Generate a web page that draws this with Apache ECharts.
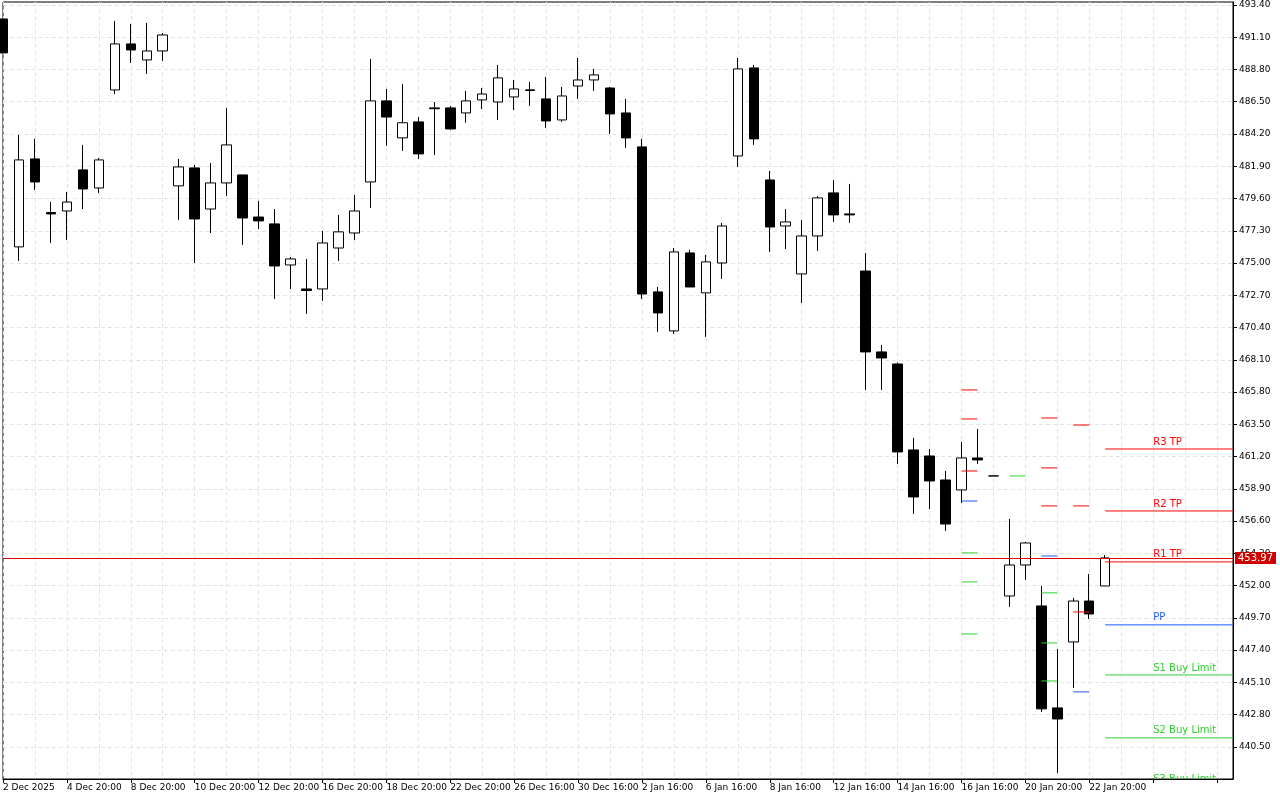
<!DOCTYPE html>
<html><head><meta charset="utf-8">
<script src="https://cdn.jsdelivr.net/npm/echarts@6/dist/echarts.min.js"></script>
<style>html,body{margin:0;padding:0;background:#fff}#c{width:1280px;height:800px}</style>
</head><body><div id="c"></div>
<script>
// OHLC candles: [open, close, low, high]
const opens  = [492.4,476.15,482.42,478.6,478.71,481.64,480.35,487.34,490.62,489.48,490.12,480.5,481.78,478.85,480.71,481.28,478.28,477.79,474.86,473.15,473.15,476.07,477.14,480.78,486.56,483.92,485.06,486.06,486.06,485.7,486.63,486.48,486.84,487.3,486.7,485.2,487.62,488.05,487.48,485.7,483.28,472.94,470.16,475.72,472.87,475.0,482.63,488.91,480.92,477.64,474.22,476.93,480.0,478.5,474.43,468.66,467.8,461.67,461.24,459.53,458.82,461.1,459.82,451.26,453.47,450.55,443.28,447.98,450.9,451.97];
const closes = [489.98,482.35,480.78,478.5,479.35,480.28,482.35,490.62,490.19,490.12,491.26,481.85,478.14,480.71,483.42,478.21,478.0,474.79,475.29,473.04,476.43,477.22,478.71,486.56,485.41,485.0,482.78,486.0,484.56,486.56,487.05,488.2,487.41,487.35,485.13,486.91,488.05,488.41,485.63,483.92,472.79,471.44,475.79,473.29,475.08,477.64,488.84,483.85,477.57,477.93,476.93,479.64,478.43,478.43,468.66,468.23,461.53,458.32,459.46,456.39,461.1,460.96,459.82,453.47,455.04,443.21,442.49,450.9,449.98,453.97];
const lows   = [489.98,475.15,480.21,476.43,476.64,478.85,480.0,487.05,489.26,488.48,489.41,478.07,475.0,477.14,479.78,476.29,477.43,472.44,473.15,471.37,472.3,475.15,476.64,478.93,483.35,482.99,482.42,482.7,484.49,485.0,485.98,485.2,485.91,486.2,484.63,485.06,486.7,487.27,484.2,483.2,472.44,470.09,469.94,473.29,469.73,473.86,481.85,483.42,475.79,476.0,472.15,475.86,477.93,477.86,465.95,465.95,460.67,457.11,457.46,455.9,457.89,460.67,459.82,450.48,452.4,442.99,438.64,444.7,449.62,451.97];
const highs  = [492.4,484.13,483.85,479.35,480.07,483.42,482.49,492.26,492.05,492.12,491.4,482.42,481.99,482.13,486.06,481.28,479.43,478.85,475.43,475.29,477.29,478.43,479.85,489.55,487.41,487.77,485.41,486.48,486.2,487.27,487.48,489.12,488.05,487.91,488.27,487.55,489.62,488.84,487.55,486.7,483.85,473.29,476.07,475.93,475.58,477.86,489.62,489.12,481.56,478.85,478.07,479.78,480.92,480.64,475.72,469.16,467.9,462.53,461.74,460.17,462.24,463.17,459.82,456.75,455.11,451.97,447.48,451.12,452.83,454.18];
const xTickLabels = ["2 Dec 2025","4 Dec 20:00","8 Dec 20:00","10 Dec 20:00","12 Dec 20:00","16 Dec 20:00","18 Dec 20:00","22 Dec 20:00","26 Dec 16:00","30 Dec 16:00","2 Jan 16:00","6 Jan 16:00","8 Jan 16:00","12 Jan 16:00","14 Jan 16:00","16 Jan 16:00","20 Jan 20:00","22 Jan 20:00"];
const yTicks = [440.5,442.8,445.1,447.4,449.7,452.0,454.3,456.6,458.9,461.2,463.5,465.8,468.1,470.4,472.7,475.0,477.3,479.6,481.9,484.2,486.5,488.8,491.1,493.4];
const lastPrice = 453.97;
// pivot segments: [startIndex, endIndex, value, kind(0=R,1=PP,2=S)]
const pivotStart = [60,60,60,60,60,60,60, 63, 65,65,65,65,65,65,65, 67,67,67,67, 69,69,69,69,69,69,69];
const pivotEnd   = [61,61,61,61,61,61,61, 64, 66,66,66,66,66,66,66, 68,68,68,68, 77,77,77,77,77,77,77];
const pivotValue = [465.95,463.88,460.17,458.03,454.33,452.26,448.55, 459.82, 463.95,460.39,457.68,454.11,451.48,447.91,445.2, 463.45,457.68,450.12,444.42, 461.74,457.32,453.69,449.2,445.63,441.14,437.7];
const pivotKind  = [0,0,0,1,2,2,2, 2, 0,0,0,1,2,2,2, 0,0,0,1, 0,0,0,1,2,2,2];
const pivotText  = ["","","","","","","", "", "","","","","","","", "","","","", "R3 TP","R2 TP","R1 TP","PP","S1 Buy Limit","S2 Buy Limit","S3 Buy Limit"];

const N = 78;
const cats = []; for (let i = 0; i < N; i++) cats.push(String(i));
const candles = opens.map((o, i) => [o, closes[i], lows[i], highs[i]]);
const kindColor = ['#ff0000', '#1e5aff', '#32cd32'];
const segData = pivotStart.map((s, i) => [s, pivotEnd[i], pivotValue[i], pivotKind[i]]);

const chart = echarts.init(document.getElementById('c'));
chart.setOption({
  animation: false,
  backgroundColor: '#fff',
  textStyle: { fontFamily: 'DejaVu Sans' },
  grid: { left: 2, right: 47, top: 2, bottom: 21, show: true, borderColor: '#000', borderWidth: 1 },
  xAxis: {
    type: 'category', data: cats, boundaryGap: false,
    axisLine: { lineStyle: { color: '#000' } },
    axisTick: { show: true, interval: 3, length: 4, lineStyle: { color: '#000' } },
    axisLabel: { interval: 3, align: 'left', fontSize: 9, color: '#000', margin: 4,
      formatter: (v, idx) => xTickLabels[idx / 4] || '' },
    splitLine: { show: true, interval: 1, lineStyle: { color: '#e4e4e4', type: [4, 3] } }
  },
  yAxis: {
    type: 'value', position: 'right', min: 438.21, max: 493.61, scale: true,
    axisLine: { show: true, lineStyle: { color: '#000' } },
    axisTick: { show: true, length: 4, customValues: yTicks, lineStyle: { color: '#000' } },
    axisLabel: { fontSize: 9, color: '#000', margin: 6, customValues: yTicks, formatter: v => v.toFixed(2) },
    splitLine: { show: false }
  },
  series: [
    { type: 'line', data: [], silent: true, z: 0, zlevel: 0,
      markLine: { silent: true, symbol: 'none', animation: false, z: 0,
        label: { show: false },
        lineStyle: { color: '#e4e4e4', type: [4, 3], width: 1 },
        data: yTicks.map(t => ({ yAxis: t })) } },
    { type: 'candlestick', data: candles, barWidth: 10, z: 3,
      itemStyle: { color: '#fff', color0: '#000', borderColor: '#000', borderColor0: '#000', borderWidth: 1 },
      markLine: { silent: true, symbol: 'none', animation: false,
        lineStyle: { color: '#e00000', type: 'solid', width: 1 },
        label: { show: true, position: 'end', formatter: lastPrice.toFixed(2), color: '#fff', backgroundColor: '#d00000', fontSize: 10, padding: [1, 3], distance: 2 },
        data: [{ yAxis: lastPrice }] } },
    { type: 'custom', data: segData, clip: true, z: 5,
      renderItem: (params, api) => {
        const i = params.dataIndex;
        const a = api.coord([api.value(0), api.value(2)]);
        const b = api.coord([api.value(1), api.value(2)]);
        const col = kindColor[api.value(3)];
        const ext = api.value(1) >= N - 1 ? 20 : 0;
        const children = [{ type: 'line', shape: { x1: a[0], y1: a[1], x2: b[0] + ext, y2: b[1] }, style: { stroke: col, lineWidth: 1 } }];
        if (pivotText[i]) {
          children.push({ type: 'text', style: { text: pivotText[i], x: a[0] + 48, y: a[1] - 2, fill: col, font: '10px "DejaVu Sans"', textVerticalAlign: 'bottom' } });
        }
        return { type: 'group', children };
      } }
  ]
});
</script></body></html>
